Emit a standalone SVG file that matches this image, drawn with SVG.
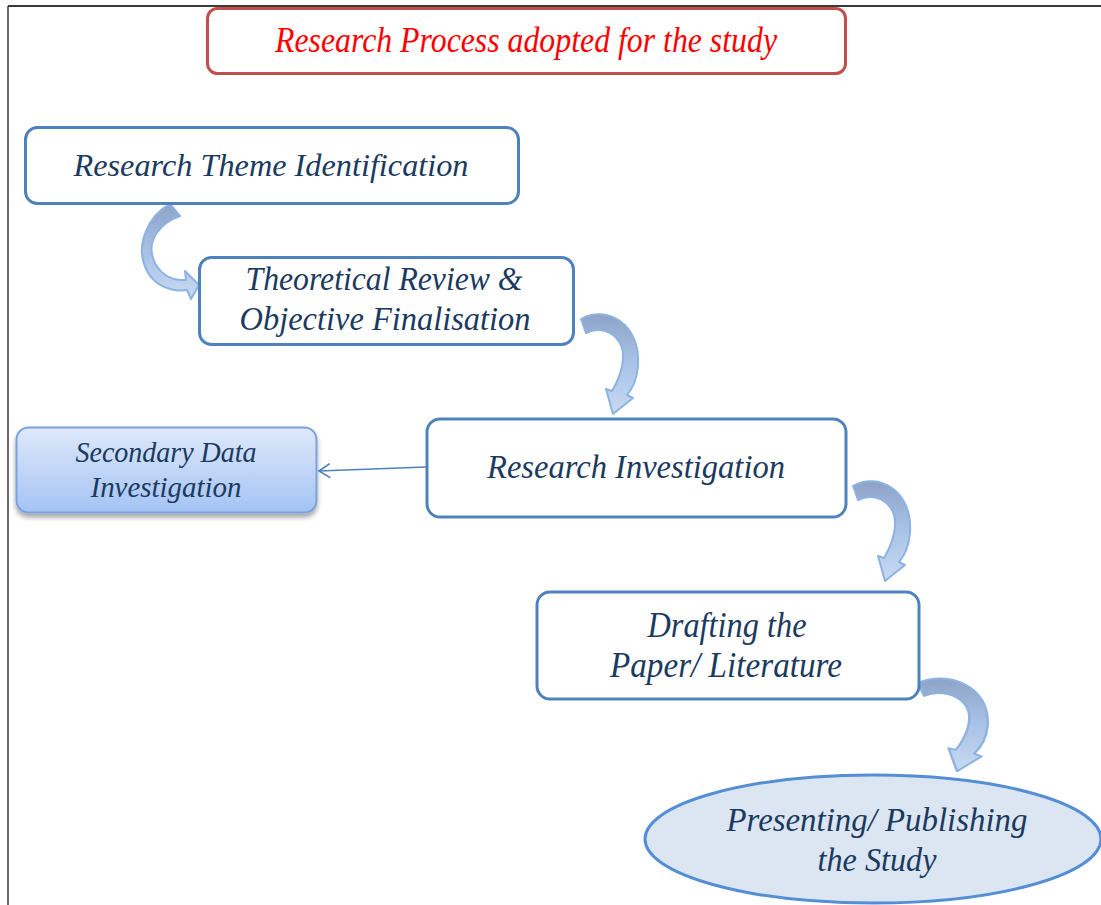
<svg xmlns="http://www.w3.org/2000/svg" width="1101" height="905" viewBox="0 0 1101 905">
<style>
.box{fill:#ffffff;stroke:#4f81bd;stroke-width:3}
.t{font-family:"Liberation Serif","Times New Roman",serif;font-style:italic;fill:#1b3a5f;text-anchor:middle}
.carrow{stroke:#8db3e2;stroke-width:2;stroke-linejoin:round}
</style>
<defs>
<linearGradient id="secg" x1="0" y1="0" x2="0" y2="1">
<stop offset="0" stop-color="#dfe9fb"/>
<stop offset="1" stop-color="#a4c3f4"/>
</linearGradient>
<linearGradient id="ag" x1="0" y1="0" x2="0" y2="1">
<stop offset="0" stop-color="#8ea3c6"/>
<stop offset="0.45" stop-color="#a6c0e6"/>
<stop offset="1" stop-color="#c8daf2"/>
</linearGradient>
<linearGradient id="ag1" x1="0" y1="0" x2="0" y2="1">
<stop offset="0" stop-color="#8ea3c6"/>
<stop offset="0.5" stop-color="#a7c1e7"/>
<stop offset="1" stop-color="#c8daf2"/>
</linearGradient>
<filter id="sh" x="-10%" y="-10%" width="120%" height="130%">
<feGaussianBlur in="SourceAlpha" stdDeviation="2.5"/>
<feOffset dx="0" dy="4" result="b"/>
<feComponentTransfer><feFuncA type="linear" slope="0.35"/></feComponentTransfer>
<feMerge><feMergeNode/><feMergeNode in="SourceGraphic"/></feMerge>
</filter>
<marker id="open" markerWidth="14" markerHeight="16" refX="12" refY="8" orient="auto" markerUnits="userSpaceOnUse">
<path d="M1,1 L12,8 L1,15" fill="none" stroke="#4f81bd" stroke-width="1.6"/>
</marker>
<path id="cv" d="M581 319 C605 305 641 322 638 366 C637 378 633 388 627 395 L633 398 L613 414 L606 389 L612 391 C621 376 627 356 620 343 C612 330 598 327 586 333 Z"/>
</defs>

<!-- frame -->
<line x1="8" y1="6" x2="1101" y2="6" stroke="#3a3a3a" stroke-width="2"/>
<line x1="8" y1="6" x2="8" y2="905" stroke="#3a3a3a" stroke-width="1.5"/>

<g id="title">
<rect x="207.5" y="8.5" width="638" height="65" rx="10" fill="#ffffff" stroke="#c0504d" stroke-width="3"/>
<text x="526" y="52" font-family="Liberation Serif, Times New Roman, serif" font-style="italic" font-size="35" fill="#ff0000" text-anchor="middle" textLength="502" lengthAdjust="spacingAndGlyphs">Research Process adopted for the study</text>
</g>

<g id="connectors">
<path class="carrow" fill="url(#ag1)" d="M170 204 C148 216 134 246 147 271 C155 286 171 292 187 290 L191 299 L199 285 L185 271 L186 280 C170 281 158 273 153 258 C147 240 160 223 180 216 Z"/>
<use href="#cv" class="carrow" fill="url(#ag)"/>
<use href="#cv" class="carrow" fill="url(#ag)" transform="translate(272,167)"/>
<use href="#cv" class="carrow" fill="url(#ag)" vector-effect="non-scaling-stroke" transform="translate(918,682) scale(1.22,0.93) translate(-581,-318)"/>
<line x1="426" y1="467" x2="319" y2="471" stroke="#4f81bd" stroke-width="1.6" marker-end="url(#open)"/>
</g>

<g id="n1">
<rect class="box" x="25.5" y="127.5" width="493" height="76" rx="12"/>
<text class="t" x="271" y="176" font-size="31" textLength="395" lengthAdjust="spacingAndGlyphs">Research Theme Identification</text>
</g>

<g id="n2">
<rect class="box" x="199.5" y="257.5" width="374" height="87" rx="12"/>
<text class="t" x="384" y="290" font-size="34" textLength="277" lengthAdjust="spacingAndGlyphs">Theoretical Review &amp;</text>
<text class="t" x="385" y="330" font-size="34" textLength="291" lengthAdjust="spacingAndGlyphs">Objective Finalisation</text>
</g>

<g id="n3">
<rect class="box" x="427" y="419" width="419" height="98" rx="13"/>
<text class="t" x="636" y="478" font-size="34" textLength="298" lengthAdjust="spacingAndGlyphs">Research Investigation</text>
</g>

<g id="n4">
<rect x="16.5" y="427.5" width="300" height="85" rx="12" fill="url(#secg)" stroke="#7aa3dc" stroke-width="2" filter="url(#sh)"/>
<text class="t" x="166" y="462" font-size="29" textLength="181" lengthAdjust="spacingAndGlyphs">Secondary Data</text>
<text class="t" x="166" y="497" font-size="29" textLength="151" lengthAdjust="spacingAndGlyphs">Investigation</text>
</g>

<g id="n5">
<rect class="box" x="537" y="592" width="382" height="107" rx="13"/>
<text class="t" x="727" y="637" font-size="35" textLength="159" lengthAdjust="spacingAndGlyphs">Drafting the</text>
<text class="t" x="726" y="677" font-size="35" textLength="232" lengthAdjust="spacingAndGlyphs">Paper/ Literature</text>
</g>

<g id="n6">
<ellipse cx="873" cy="839" rx="228" ry="64" fill="#dce6f2" stroke="#558ed5" stroke-width="3"/>
<text class="t" x="877" y="831" font-size="33" textLength="301" lengthAdjust="spacingAndGlyphs">Presenting/ Publishing</text>
<text class="t" x="877" y="871" font-size="33" textLength="119" lengthAdjust="spacingAndGlyphs">the Study</text>
</g>
</svg>
